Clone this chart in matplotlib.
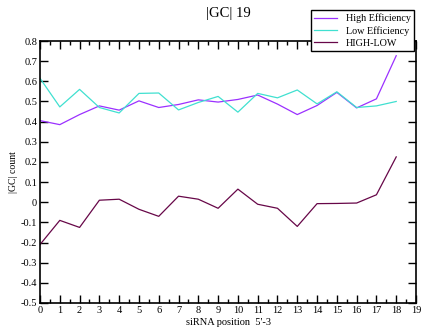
import numpy as np
import matplotlib
matplotlib.use('Agg')
import matplotlib.pyplot as plt
from matplotlib.ticker import MultipleLocator

plt.rcParams['font.family'] = ['Liberation Serif', 'DejaVu Serif']

pos = list(range(19))
high_eff = [0.405, 0.385, 0.435, 0.478, 0.457, 0.503, 0.470, 0.485, 0.508, 0.497,
            0.510, 0.532, 0.487, 0.435, 0.480, 0.545, 0.468, 0.513, 0.727]
low_eff = [0.615, 0.473, 0.560, 0.470, 0.443, 0.540, 0.542, 0.458, 0.495, 0.525,
           0.447, 0.540, 0.518, 0.557, 0.488, 0.548, 0.470, 0.478, 0.500]
high_low = [-0.210, -0.090, -0.125, 0.010, 0.015, -0.035, -0.070, 0.030, 0.015, -0.030,
            0.065, -0.010, -0.030, -0.120, -0.007, -0.006, -0.004, 0.037, 0.225]
yticks = np.round(np.arange(-0.5, 0.81, 0.1), 1)

fig = plt.figure(figsize=(4.22, 3.27), dpi=100)
ax = fig.add_axes([0.0948, 0.0734, 0.891, 0.8012])

l1, = ax.plot(pos, high_eff, color='#9b30ff', lw=0.9, label='High Efficiency')
l2, = ax.plot(pos, low_eff, color='#40e0d0', lw=0.9, label='Low Efficiency')
l3, = ax.plot(pos, high_low, color='#670748', lw=0.9, label='HIGH-LOW')

ax.set_xlim(0, 19)
ax.set_ylim(-0.5, 0.8)
ax.xaxis.set_major_locator(MultipleLocator(1))
ax.xaxis.set_minor_locator(MultipleLocator(0.5))
ax.set_yticks(yticks)
ax.set_yticklabels(['0' if abs(v) < 1e-9 else f'{v:g}' for v in yticks])
ax.tick_params(which='both', direction='in', top=True, right=True, labelsize=7.5, pad=2)
ax.tick_params(which='major', length=6, width=1)
ax.tick_params(which='minor', length=3, width=1)
for s in ax.spines.values():
    s.set_linewidth(1.2)

ax.set_xlabel("siRNA position  5'-3", fontsize=7.5, labelpad=2)
ax.set_ylabel('|GC| count', fontsize=7, labelpad=2)
fig.text(0.54, 0.96, '|GC| 19', ha='center', va='center', fontsize=10.5)

leg = fig.legend(handles=[l1, l2, l3], loc='upper right', bbox_to_anchor=(0.982, 0.97),
                 fontsize=7.3, frameon=True, fancybox=False, edgecolor='black',
                 framealpha=1, borderpad=0.35, handlelength=2.2, labelspacing=0.3,
                 handletextpad=0.9, borderaxespad=0)
leg.get_frame().set_linewidth(1.0)

fig.savefig('out.png', dpi=100)
